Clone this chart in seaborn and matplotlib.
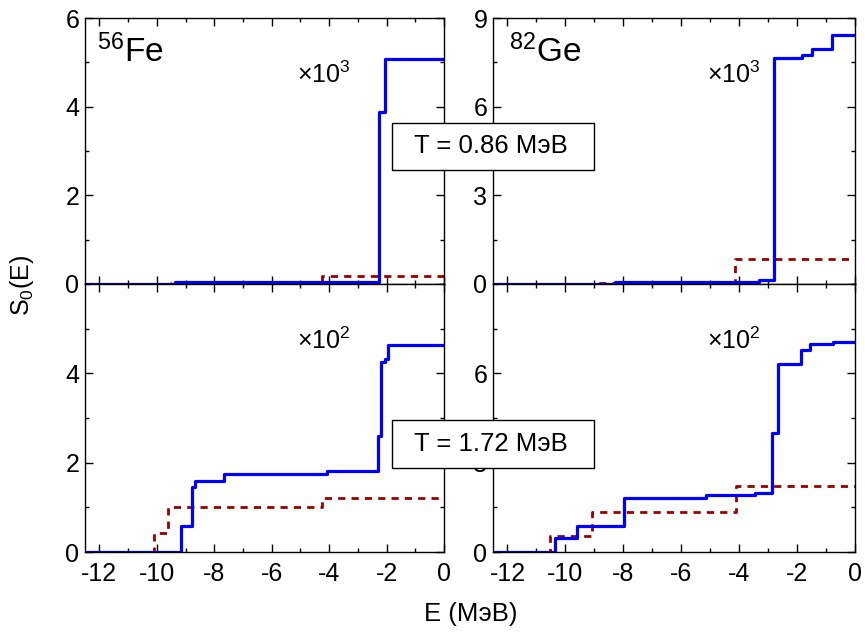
import matplotlib
matplotlib.use("Agg")
import matplotlib.pyplot as plt
from matplotlib.patches import Rectangle
from matplotlib.ticker import MultipleLocator, FixedLocator
import seaborn as sns
import numpy as np
import pandas as pd

# step edges (E, MeV) and values (S0), steps-post, last value repeated at E=0
fe_low_blue_e = [-12.5, -9.37, -2.26, -2.05, 0.0]
fe_low_blue_s = [0.005, 0.05, 3.87, 5.08, 5.08]
fe_low_red_e = [-12.5, -9.5, -4.26, 0.0]
fe_low_red_s = [0.0, 0.02, 0.19, 0.19]

ge_low_blue_e = [-12.5, -8.29, -3.31, -2.79, -1.84, -1.50, -0.81, 0.0]
ge_low_blue_s = [0.0, 0.08, 0.12, 7.63, 7.75, 7.95, 8.42, 8.42]
ge_low_red_e = [-12.5, -9.0, -4.14, 0.0]
ge_low_red_s = [0.0, 0.04, 0.85, 0.85]

fe_high_blue_e = [-12.5, -9.17, -8.78, -8.67, -7.66, -4.08, -2.29, -2.19, -2.05, -1.94, 0.0]
fe_high_blue_s = [0.0, 0.59, 1.45, 1.60, 1.74, 1.81, 2.60, 4.26, 4.31, 4.63, 4.63]
fe_high_red_e = [-12.5, -10.1, -9.6, -4.26, 0.0]
fe_high_red_s = [0.0, 0.42, 1.01, 1.22, 1.22]

ge_high_blue_e = [-12.5, -10.36, -9.61, -7.98, -5.13, -3.45, -2.88, -2.65, -1.88, -1.56, -0.76, 0.0]
ge_high_blue_s = [0.0, 0.46, 0.87, 1.83, 1.91, 1.97, 3.99, 6.31, 6.78, 6.97, 7.05, 7.05]
ge_high_red_e = [-12.5, -10.53, -9.08, -4.12, 0.0]
ge_high_red_s = [0.0, 0.55, 1.33, 2.23, 2.23]

nuclei = ["$\\mathregular{^{56}}$Fe", "$\\mathregular{^{82}}$Ge"]
scales = ["$\\mathregular{\\times10^3}$", "$\\mathregular{\\times10^2}$"]
temps = ["T = 0.86 МэВ", "T = 1.72 МэВ"]

sns.set_style("ticks")
plt.rcParams["font.family"] = ["Liberation Sans", "DejaVu Sans"]
plt.rcParams["mathtext.fontset"] = "custom"
plt.rcParams["mathtext.rm"] = "Liberation Sans"
plt.rcParams["mathtext.it"] = "Liberation Sans:italic"
plt.rcParams["axes.linewidth"] = 1.0
plt.rcParams["axes.unicode_minus"] = False
for key in ["text.color", "axes.edgecolor", "axes.labelcolor", "xtick.color", "ytick.color"]:
    plt.rcParams[key] = "black"

fig = plt.figure(figsize=(8.65, 6.32), dpi=100)

# [left, bottom, width, height] in figure fraction
pos = {
    (0, 0): [85 / 865, 1 - 284 / 632, 359 / 865, 266 / 632],
    (0, 1): [493 / 865, 1 - 284 / 632, 362 / 865, 266 / 632],
    (1, 0): [85 / 865, 1 - 552 / 632, 359 / 865, 268 / 632],
    (1, 1): [493 / 865, 1 - 552 / 632, 362 / 865, 268 / 632],
}

panels = {
    (0, 0): (fe_low_blue_e, fe_low_blue_s, fe_low_red_e, fe_low_red_s),
    (0, 1): (ge_low_blue_e, ge_low_blue_s, ge_low_red_e, ge_low_red_s),
    (1, 0): (fe_high_blue_e, fe_high_blue_s, fe_high_red_e, fe_high_red_s),
    (1, 1): (ge_high_blue_e, ge_high_blue_s, ge_high_red_e, ge_high_red_s),
}

for (r, c), (be, bs, re_, rs) in panels.items():
    ax = fig.add_axes(pos[(r, c)])
    blue = pd.DataFrame({"E": be, "S": bs})
    red = pd.DataFrame({"E": re_, "S": rs})
    sns.lineplot(data=red, x="E", y="S", ax=ax, color="#990000", lw=2.0,
                 linestyle=(0, (2.6, 2.2)), drawstyle="steps-post",
                 estimator=None, sort=True)
    sns.lineplot(data=blue, x="E", y="S", ax=ax, color="#0000ff", lw=2.3,
                 drawstyle="steps-post", estimator=None, sort=True)

    ax.set_xlim(-12.5, 0)
    ymax = 6 if c == 0 else 9
    step = 2 if c == 0 else 3
    ax.set_ylim(0, ymax)
    ax.xaxis.set_major_locator(MultipleLocator(2))
    ax.xaxis.set_minor_locator(MultipleLocator(1))
    if r == 0:
        ax.yaxis.set_major_locator(FixedLocator(np.arange(0, ymax + 0.1, step)))
    else:
        ax.yaxis.set_major_locator(FixedLocator(np.arange(0, ymax - step + 0.1, step)))
    ax.yaxis.set_minor_locator(MultipleLocator(step / 2))
    ax.tick_params(which="both", direction="in", top=True, right=True,
                   labelsize=18, width=1.0)
    ax.tick_params(axis="x", pad=7)
    ax.tick_params(axis="y", pad=4)
    ax.tick_params(which="major", length=6)
    ax.tick_params(which="minor", length=3)
    ax.set_xlabel("")
    ax.set_ylabel("")
    if r == 0:
        ax.tick_params(labelbottom=False)
        ax.text(0.033 if c == 0 else 0.045, 0.835, nuclei[c], transform=ax.transAxes,
                fontsize=24, va="baseline", ha="left")
    ax.text(0.59, 0.757, scales[r], transform=ax.transAxes,
            fontsize=18, va="baseline", ha="left")

# temperature boxes straddling the columns
for top_px, txt in zip([122.5, 420], temps):
    h = 47.5
    fig.add_artist(Rectangle((391.5 / 865, 1 - (top_px + h) / 632), 202 / 865, h / 632,
                             transform=fig.transFigure, facecolor="white",
                             edgecolor="black", lw=1.0, zorder=10))
    fig.text(491 / 865, 1 - (top_px + h / 2) / 632, txt, fontsize=18.5,
             ha="center", va="center", zorder=11)

fig.text(0.026, 1 - 285 / 632, "$\\mathregular{S_0(E)}$", rotation=90,
         fontsize=18, ha="center", va="center")
fig.text(471 / 865, 1 - 614 / 632, "E (МэВ)", fontsize=18.5, ha="center", va="center")

fig.savefig("out.png", dpi=100)
